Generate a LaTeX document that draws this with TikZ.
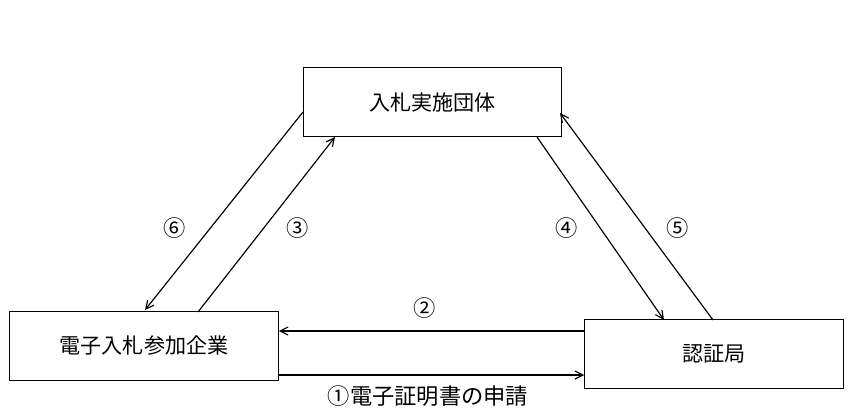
\documentclass[tikz,border=0pt]{standalone}
\usepackage{fontspec}
\newfontfamily\cjk{Noto Sans CJK JP}
\usetikzlibrary{calc,positioning,arrows.meta}
\tikzset{>={Straight Barb[width=2.4mm,length=2.4mm]}}
\begin{document}
\begin{tikzpicture}[x=0.03cm,y=-0.03cm]
      \tikzstyle{bnode} = [draw=black, line width=1pt, rectangle, minimum width=7.7cm, minimum height=2.05cm, font=\cjk\fontsize{18}{20}\selectfont]
      \tikzstyle{lnode} = [font=\cjk\fontsize{19}{21}\selectfont]
      \tikzstyle{arr} = [->, line width=1pt]
      \useasboundingbox (0,0) rectangle (862,416);
      %% boxes
      \node[bnode, minimum width=7.75cm] (bid) at (432.5,102) {入札実施団体};
      \node[bnode, minimum width=8.05cm] (firm) at (144,346) {電子入札参加企業};
      \node[bnode, minimum width=7.75cm] (ca) at (714,354) {認証局};
      %% end points
      \coordinate (a6) at (303,112);
      \coordinate (b6) at (145,310);
      \coordinate (a3) at (198,312);
      \coordinate (b3) at (335,137);
      \coordinate (a4) at (537,137);
      \coordinate (b4) at (664,320);
      \coordinate (a5) at (713,320);
      \coordinate (b5) at (560,113);
      \draw[arr] (a6) -- (b6);
      \draw[arr] (a3) -- (b3);
      \draw[arr] (a4) -- (b4);
      \draw[arr] (a5) -- (b5);
      \draw[arr] (ca.west |- 0,331) -- (firm.east |- 0,331);
      \draw[arr] (firm.east |- 0,375) -- (ca.west |- 0,375);
      %% labels
      \node[lnode] (l6) at (175,228) {⑥};
      \node[lnode] (l3) at (298,228) {③};
      \node[lnode] (l4) at (567,228) {④};
      \node[lnode] (l5) at (678,228) {⑤};
      \node[lnode] (l2) at (425,308) {②};
      \node[lnode] (l1) at (428,396) {①電子証明書の申請};
\end{tikzpicture}
\end{document}
